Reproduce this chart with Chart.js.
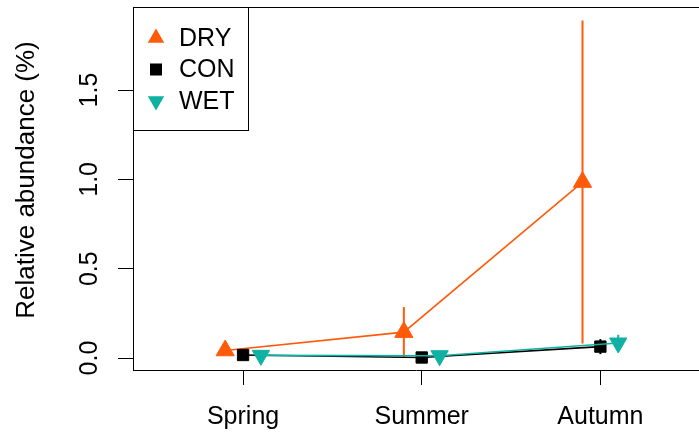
<!DOCTYPE html>
<html>
<head>
<meta charset="utf-8">
<script src="https://cdn.jsdelivr.net/npm/chart.js@4/dist/chart.umd.min.js"></script>
<style>
  html, body { margin: 0; padding: 0; background: #fff; overflow: hidden; }
  canvas { display: block; }
</style>
</head>
<body>
<canvas id="c" width="699" height="434"></canvas>
<script>
// Seasonal relative abundance (%) per moisture treatment, mean ± SE
const seasons = ['Spring', 'Summer', 'Autumn'];
const treatments = ['DRY', 'CON', 'WET'];
const dryMean = [0.042, 0.145, 0.985];
const drySE   = [0.015, 0.14, 0.904];
const conMean = [0.017, 0.003, 0.064];
const conSE   = [0.004, 0.003, 0.042];
const wetMean = [0.015, 0.013, 0.084];
const wetSE   = [0.004, 0.004, 0.046];
const yTicks  = [0, 0.5, 1, 1.5];
const yTitle  = 'Relative abundance (%)';

const FONT = '"Liberation Sans", Arial, Helvetica, sans-serif';
const DODGE = 0.1;               // horizontal offset between treatments
const colours = { DRY: '#ff5a0a', CON: '#000000', WET: '#0fb2a2' };

function series(means, shift) {
  return means.map((m, i) => ({ x: i + 1 + shift, y: m }));
}

const datasets = [
  { label: 'DRY', data: series(dryMean, -DODGE), se: drySE, pointStyle: 'triangle', pointRadius: 10.5, pointRotation: 0, order: 2 },
  { label: 'CON', data: series(conMean, 0),      se: conSE, pointStyle: 'rect',     pointRadius: 8,    pointRotation: 0, order: 1 },
  { label: 'WET', data: series(wetMean, DODGE),  se: wetSE, pointStyle: 'triangle', pointRadius: 10,   pointRotation: 180, order: 0 }
].map(d => Object.assign(d, {
  borderColor: colours[d.label],
  backgroundColor: colours[d.label],
  pointBackgroundColor: colours[d.label],
  pointBorderColor: colours[d.label],
  pointBorderWidth: 1,
  borderWidth: 1.6,
  showLine: true,
  tension: 0,
  clip: false
}));

function drawMarker(ctx, style, x, y, r, rot, colour) {
  ctx.save();
  ctx.fillStyle = colour;
  ctx.beginPath();
  if (style === 'rect') {
    const s = Math.SQRT1_2 * r;
    ctx.rect(x - s, y - s, 2 * s, 2 * s);
  } else {
    const dir = rot === 180 ? -1 : 1;
    const h = Math.sin(Math.PI / 3) * r;
    ctx.moveTo(x, y - dir * r);
    ctx.lineTo(x + h, y + dir * r / 2);
    ctx.lineTo(x - h, y + dir * r / 2);
    ctx.closePath();
  }
  ctx.fill();
  ctx.restore();
}

const decorations = {
  id: 'decorations',
  beforeDatasetsDraw(chart) {
    // vertical SE bars, under the lines and markers
    const { ctx, scales: { x, y } } = chart;
    ctx.save();
    ctx.lineWidth = 2;
    chart.data.datasets.forEach(ds => {
      ctx.strokeStyle = ds.borderColor;
      ds.data.forEach((p, i) => {
        const px = x.getPixelForValue(p.x);
        ctx.beginPath();
        ctx.moveTo(px, y.getPixelForValue(p.y - ds.se[i]));
        ctx.lineTo(px, y.getPixelForValue(p.y + ds.se[i]));
        ctx.stroke();
      });
    });
    ctx.restore();
  },
  afterDraw(chart) {
    const { ctx, chartArea: a, scales: { y } } = chart;
    ctx.save();
    // top edge of the plot frame
    ctx.strokeStyle = '#000';
    ctx.lineWidth = 1;
    ctx.beginPath();
    ctx.moveTo(a.left, a.top + 0.5);
    ctx.lineTo(a.right, a.top + 0.5);
    ctx.stroke();

    // y tick labels, parallel to the axis
    ctx.fillStyle = '#000';
    ctx.font = '25px ' + FONT;
    ctx.textAlign = 'center';
    ctx.textBaseline = 'alphabetic';
    yTicks.forEach(v => {
      ctx.save();
      ctx.translate(97, y.getPixelForValue(v));
      ctx.rotate(-Math.PI / 2);
      ctx.fillText(v.toFixed(1), 0, 0);
      ctx.restore();
    });

    // y axis title
    ctx.save();
    ctx.translate(34, 180);
    ctx.rotate(-Math.PI / 2);
    ctx.font = '26px ' + FONT;
    ctx.fillText(yTitle, 0, 0);
    ctx.restore();

    // legend box in the top-left corner
    const lx = a.left, ly = a.top, lw = 115, lh = 123;
    ctx.fillStyle = '#fff';
    ctx.fillRect(lx, ly, lw, lh);
    ctx.strokeStyle = '#000';
    ctx.lineWidth = 1;
    ctx.strokeRect(lx + 0.5, ly + 0.5, lw, lh);
    ctx.font = '25px ' + FONT;
    ctx.textAlign = 'left';
    ctx.textBaseline = 'middle';
    chart.data.datasets.forEach((ds, i) => {
      const cy = ly + 31 + i * 31.5;
      drawMarker(ctx, ds.pointStyle, lx + 23, cy, ds.pointStyle === 'rect' ? 8.5 : 9.5, ds.pointRotation, ds.borderColor);
      ctx.fillStyle = '#000';
      ctx.fillText(treatments[i], lx + 46, cy + 1);
    });
    ctx.restore();
  }
};

new Chart(document.getElementById('c'), {
  type: 'scatter',
  data: { datasets },
  options: {
    responsive: false,
    animation: false,
    events: [],
    layout: { autoPadding: false, padding: { left: 0, top: 7, right: 0, bottom: 0 } },
    plugins: { legend: { display: false }, tooltip: { enabled: false } },
    scales: {
      x: {
        type: 'linear',
        min: 0.384,
        max: 3.552,
        afterFit: s => { s.height = 64; },
        afterBuildTicks: s => { s.ticks = seasons.map((_, i) => ({ value: i + 1 })); },
        ticks: {
          callback: v => seasons[Math.round(v) - 1],
          color: '#000',
          font: { family: FONT, size: 25 },
          padding: 17,
          maxRotation: 0,
          autoSkip: false
        },
        grid: { drawOnChartArea: false, drawTicks: true, tickLength: 15, color: '#000', lineWidth: 1 },
        border: { display: true, color: '#000', width: 1 }
      },
      y: {
        type: 'linear',
        min: -0.067,
        max: 1.965,
        afterFit: s => { s.width = 133; },
        afterBuildTicks: s => { s.ticks = yTicks.map(v => ({ value: v })); },
        ticks: { display: false },
        grid: { drawOnChartArea: false, drawTicks: true, tickLength: 15, color: '#000', lineWidth: 1 },
        border: { display: true, color: '#000', width: 1 }
      }
    }
  },
  plugins: [decorations]
});
</script>
</body>
</html>
